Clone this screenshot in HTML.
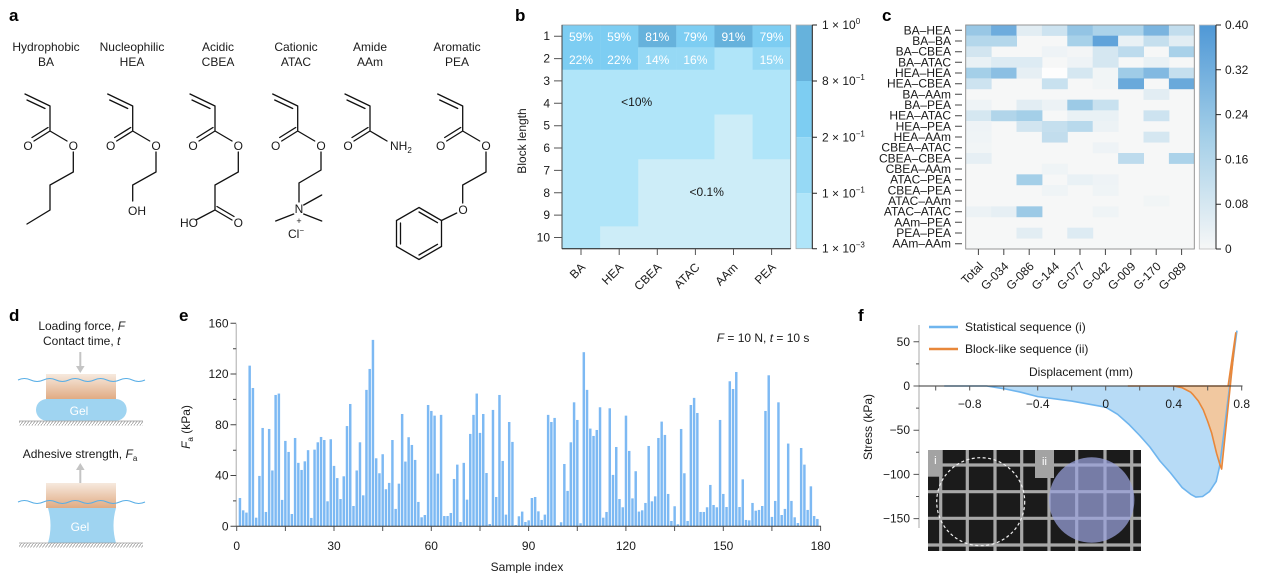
<!DOCTYPE html>
<html><head><meta charset="utf-8"><style>
html,body{margin:0;padding:0;background:#fff;}
svg{display:block;font-family:"Liberation Sans",Arial,sans-serif;}
text{font-size:12px;fill:#1a1a1a;}
.pl{font-size:17px;font-weight:bold;fill:#000;}
.w{fill:#fff;}
</style></head><body>
<svg width="1270" height="573" viewBox="0 0 1270 573" xmlns="http://www.w3.org/2000/svg">
<defs>
<linearGradient id="peach" x1="0" y1="0" x2="0" y2="1"><stop offset="0" stop-color="#f6e9de"/><stop offset="1" stop-color="#e1ab83"/></linearGradient>
<linearGradient id="cbc" x1="0" y1="0" x2="0" y2="1"><stop offset="0" stop-color="#4f98d6"/><stop offset="0.5" stop-color="#a4cfe8"/><stop offset="1" stop-color="#f6f7f7"/></linearGradient>
<pattern id="hatch" width="3" height="4" patternUnits="userSpaceOnUse"><path d="M-0.5 4.5 L3.5 -0.5" stroke="#9a9a9a" stroke-width="0.8"/></pattern>
</defs>
<rect width="1270" height="573" fill="#fff"/>

<!-- ============ Panel a ============ -->
<text class="pl" x="9" y="21">a</text>
<g text-anchor="middle">
<text x="46" y="51">Hydrophobic</text><text x="46" y="66">BA</text>
<text x="132" y="51">Nucleophilic</text><text x="132" y="66">HEA</text>
<text x="218" y="51">Acidic</text><text x="218" y="66">CBEA</text>
<text x="296" y="51">Cationic</text><text x="296" y="66">ATAC</text>
<text x="370" y="51">Amide</text><text x="370" y="66">AAm</text>
<text x="457" y="51">Aromatic</text><text x="457" y="66">PEA</text>
</g>
<g stroke="#111" stroke-width="1.3" fill="none" stroke-linecap="round">
<!-- BA -->
<path d="M25 94 L50 106 M27 100 L45 108.5 M50 106 L50 131 M50 131 L67 141 M50 131 L34 141 M48 127.5 L32 137.5 M73.3 152 L73.3 172 L50 185 L50 210 L27 224"/>
<!-- HEA -->
<path transform="translate(82.7 0)" d="M25 94 L50 106 M27 100 L45 108.5 M50 106 L50 131 M50 131 L67 141 M50 131 L34 141 M48 127.5 L32 137.5 M73.3 152 L73.3 172 L50 185 L50 201"/>
<!-- CBEA -->
<path transform="translate(165 0)" d="M25 94 L50 106 M27 100 L45 108.5 M50 106 L50 131 M50 131 L67 141 M50 131 L34 141 M48 127.5 L32 137.5 M73.3 152 L73.3 172 L50 185 L50 210 L31 220 M50 210 L67 220 M52 206.5 L69 216.5"/>
<!-- ATAC -->
<path transform="translate(247.7 0)" d="M25 94 L50 106 M27 100 L45 108.5 M50 106 L50 131 M50 131 L67 141 M50 131 L34 141 M48 127.5 L32 137.5 M73.3 152 L73.3 170 L51.3 183 L51.3 202 M56 205 L74 195 M46 214 L28 221 M56 214 L74 221"/>
<!-- AAm -->
<path transform="translate(320 0)" d="M25 94 L50 106 M27 100 L45 108.5 M50 106 L50 131 M50 131 L67 141 M50 131 L34 141 M48 127.5 L32 137.5"/>
<!-- PEA -->
<path transform="translate(412.7 0)" d="M25 94 L50 106 M27 100 L45 108.5 M50 106 L50 131 M50 131 L67 141 M50 131 L34 141 M48 127.5 L32 137.5 M73.3 152 L73.3 172 L50 185 L50 203 M44 213 L28.8 220.5"/>
<path d="M419 207.5 L441.5 220.5 L441.5 246.5 L419 259.5 L396.5 246.5 L396.5 220.5 Z M400.5 223 L400.5 244 M419 212 L437.5 222.7 M437.5 244.3 L419 255"/>
</g>
<g text-anchor="middle">
<text x="28" y="150">O</text><text x="73.3" y="150">O</text>
<text x="110.7" y="150">O</text><text x="156" y="150">O</text><text x="137" y="215">OH</text>
<text x="193" y="150">O</text><text x="238.3" y="150">O</text><text x="189" y="227">HO</text><text x="238.3" y="227">O</text>
<text x="275.7" y="150">O</text><text x="321" y="150">O</text><text x="299" y="213">N</text><text x="299" y="224" style="font-size:9px">+</text><text x="296" y="238">Cl<tspan style="font-size:8px" dy="-5">−</tspan></text>
<text x="348" y="150">O</text>
<text x="440.7" y="150">O</text><text x="486" y="150">O</text><text x="463" y="214">O</text>
</g>
<text x="390" y="150">NH<tspan style="font-size:8px" dy="3">2</tspan></text>

<!-- ============ Panel b ============ -->
<text class="pl" x="515" y="21">b</text>
<g transform="translate(562 25) scale(38.12 22.37)">
<rect x="0" y="0" width="6" height="10" fill="#b0e5f9"/>
<path d="M4 4 L5 4 L5 6 L6 6 L6 10 L1 10 L1 9 L2 9 L2 6 L4 6 Z" fill="#cdedf8"/>
<rect x="0" y="0" width="1" height="2" fill="#7dcdf2"/>
<rect x="1" y="0" width="1" height="2" fill="#7dcdf2"/>
<rect x="2" y="0" width="1" height="1" fill="#66b2dc"/>
<rect x="3" y="0" width="1" height="1" fill="#7dcdf2"/>
<rect x="4" y="0" width="1" height="1" fill="#66b2dc"/>
<rect x="5" y="0" width="1" height="1" fill="#7dcdf2"/>
<rect x="2" y="1" width="1" height="1" fill="#96d9f5"/>
<rect x="3" y="1" width="1" height="1" fill="#96d9f5"/>
<rect x="5" y="1" width="1" height="1" fill="#96d9f5"/>
</g>
<rect x="562" y="25" width="228.7" height="223.7" fill="none" stroke="#999" stroke-width="0.8"/>
<line x1="562" y1="248.7" x2="790.7" y2="248.7" stroke="#222" stroke-width="1"/>
<line x1="562" y1="25" x2="562" y2="248.7" stroke="#444" stroke-width="1"/>
<g class="w" text-anchor="middle">
<text class="w" x="581" y="41">59%</text><text class="w" x="619.2" y="41">59%</text><text class="w" x="657.3" y="41">81%</text><text class="w" x="695.4" y="41">79%</text><text class="w" x="733.5" y="41">91%</text><text class="w" x="771.6" y="41">79%</text>
<text class="w" x="581" y="64">22%</text><text class="w" x="619.2" y="64">22%</text><text class="w" x="657.3" y="64">14%</text><text class="w" x="695.4" y="64">16%</text><text class="w" x="771.6" y="64">15%</text>
</g>
<text x="636.7" y="106" text-anchor="middle">&lt;10%</text>
<text x="706.7" y="196" text-anchor="middle">&lt;0.1%</text>
<g stroke="#555" stroke-width="1">
<path d="M554 36.2 H562 M554 58.6 H562 M554 80.9 H562 M554 103.3 H562 M554 125.7 H562 M554 148 H562 M554 170.4 H562 M554 192.8 H562 M554 215.1 H562 M554 237.5 H562"/>
<path d="M581 249 V255 M619.2 249 V255 M657.3 249 V255 M695.4 249 V255 M733.5 249 V255 M771.6 249 V255"/>
</g>
<g text-anchor="end">
<text x="550" y="40">1</text><text x="550" y="62.6">2</text><text x="550" y="85">3</text><text x="550" y="107.3">4</text><text x="550" y="129.7">5</text><text x="550" y="152">6</text><text x="550" y="174.4">7</text><text x="550" y="196.8">8</text><text x="550" y="219.1">9</text><text x="550" y="241.5">10</text>
</g>
<text transform="translate(526 141) rotate(-90)" text-anchor="middle">Block length</text>
<g text-anchor="end">
<text transform="translate(586 268) rotate(-45)">BA</text>
<text transform="translate(624.2 268) rotate(-45)">HEA</text>
<text transform="translate(662.3 268) rotate(-45)">CBEA</text>
<text transform="translate(700.4 268) rotate(-45)">ATAC</text>
<text transform="translate(738.5 268) rotate(-45)">AAm</text>
<text transform="translate(776.6 268) rotate(-45)">PEA</text>
</g>
<!-- colorbar b -->
<rect x="796" y="25" width="16.3" height="56" fill="#66b2dc"/>
<rect x="796" y="81" width="16.3" height="56.3" fill="#7dcdf2"/>
<rect x="796" y="137.3" width="16.3" height="56" fill="#96d9f5"/>
<rect x="796" y="193.3" width="16.3" height="55.4" fill="#b0e5f9"/>
<rect x="796" y="25" width="16.3" height="223.7" fill="none" stroke="#aaa" stroke-width="0.8"/>
<g stroke="#222" stroke-width="1"><path d="M812.3 25 V248.7 M812.3 25 H817 M812.3 81 H817 M812.3 137.3 H817 M812.3 193.3 H817 M812.3 248.7 H817"/></g>
<text x="822" y="29">1 × 10<tspan style="font-size:8px" dy="-5">0</tspan></text>
<text x="822" y="85">8 × 10<tspan style="font-size:8px" dy="-5">−1</tspan></text>
<text x="822" y="141.3">2 × 10<tspan style="font-size:8px" dy="-5">−1</tspan></text>
<text x="822" y="197.3">1 × 10<tspan style="font-size:8px" dy="-5">−1</tspan></text>
<text x="822" y="252.7">1 × 10<tspan style="font-size:8px" dy="-5">−3</tspan></text>

<!-- ============ Panel c ============ -->
<text class="pl" x="882" y="21">c</text>
<rect x="965.7" y="25" width="228.6" height="224" fill="#f6f7f7"/>
<g transform="translate(965.7 25) scale(25.4 10.667)">
<rect x="0" y="0" width="1.02" height="1.02" fill="#98c7e5"/><rect x="1" y="0" width="1.02" height="1.02" fill="#6eacdd"/><rect x="2" y="0" width="1.02" height="1.02" fill="#e2edf3"/><rect x="3" y="0" width="1.02" height="1.02" fill="#cde3f0"/><rect x="4" y="0" width="1.02" height="1.02" fill="#93c4e4"/><rect x="5" y="0" width="1.02" height="1.02" fill="#acd3ea"/><rect x="6" y="0" width="1.02" height="1.02" fill="#acd3ea"/><rect x="7" y="0" width="1.02" height="1.02" fill="#7ab4df"/><rect x="8" y="0" width="1" height="1.02" fill="#c2dded"/>
<rect x="0" y="1" width="1.02" height="1.02" fill="#b4d7eb"/><rect x="1" y="1" width="1.02" height="1.02" fill="#b4d7eb"/><rect x="4" y="1" width="1.02" height="1.02" fill="#a7d1e9"/><rect x="5" y="1" width="1.02" height="1.02" fill="#60a3da"/><rect x="6" y="1" width="1.02" height="1.02" fill="#e9f1f5"/><rect x="7" y="1" width="1.02" height="1.02" fill="#c5dfee"/><rect x="8" y="1" width="1" height="1.02" fill="#e2edf3"/>
<rect x="0" y="2" width="1.02" height="1.02" fill="#d2e5f0"/><rect x="3" y="2" width="1.02" height="1.02" fill="#eef3f6"/><rect x="4" y="2" width="1.02" height="1.02" fill="#f3f5f6"/><rect x="5" y="2" width="1.02" height="1.02" fill="#d5e7f1"/><rect x="6" y="2" width="1.02" height="1.02" fill="#bddbed"/><rect x="8" y="2" width="1" height="1.02" fill="#a9d1e9"/>
<rect x="0" y="3" width="1.02" height="1.02" fill="#e9f1f5"/><rect x="1" y="3" width="1.02" height="1.02" fill="#ddebf3"/><rect x="2" y="3" width="1.02" height="1.02" fill="#ddebf3"/><rect x="4" y="3" width="1.02" height="1.02" fill="#eef3f6"/><rect x="5" y="3" width="1.02" height="1.02" fill="#d5e7f1"/><rect x="7" y="3" width="1.02" height="1.02" fill="#e9f1f5"/>
<rect x="0" y="4" width="1.02" height="1.02" fill="#a4cfe8"/><rect x="1" y="4" width="1.02" height="1.02" fill="#8bbfe3"/><rect x="2" y="4" width="1.02" height="1.02" fill="#e6eff4"/><rect x="3" y="4" width="1.02" height="1.02" fill="#fdfdfd"/><rect x="4" y="4" width="1.02" height="1.02" fill="#d5e7f1"/><rect x="5" y="4" width="1.02" height="1.02" fill="#f1f5f6"/><rect x="6" y="4" width="1.02" height="1.02" fill="#9fcce7"/><rect x="7" y="4" width="1.02" height="1.02" fill="#82b9e1"/><rect x="8" y="4" width="1" height="1.02" fill="#c5dfee"/>
<rect x="0" y="5" width="1.02" height="1.02" fill="#cde3f0"/><rect x="3" y="5" width="1.02" height="1.02" fill="#c8e1ef"/><rect x="5" y="5" width="1.02" height="1.02" fill="#f1f5f6"/><rect x="6" y="5" width="1.02" height="1.02" fill="#69a9db"/><rect x="8" y="5" width="1" height="1.02" fill="#69a9db"/>
<rect x="7" y="6" width="1.02" height="1.02" fill="#e2edf3"/>
<rect x="0" y="7" width="1.02" height="1.02" fill="#eef3f6"/><rect x="2" y="7" width="1.02" height="1.02" fill="#e2edf3"/><rect x="3" y="7" width="1.02" height="1.02" fill="#ecf2f5"/><rect x="4" y="7" width="1.02" height="1.02" fill="#9ccae6"/><rect x="5" y="7" width="1.02" height="1.02" fill="#c8e1ef"/>
<rect x="0" y="8" width="1.02" height="1.02" fill="#d5e7f1"/><rect x="1" y="8" width="1.02" height="1.02" fill="#b1d5ea"/><rect x="2" y="8" width="1.02" height="1.02" fill="#a4cfe8"/><rect x="4" y="8" width="1.02" height="1.02" fill="#e9f1f5"/><rect x="5" y="8" width="1.02" height="1.02" fill="#e9f1f5"/><rect x="7" y="8" width="1.02" height="1.02" fill="#cde3f0"/>
<rect x="0" y="9" width="1.02" height="1.02" fill="#eef3f6"/><rect x="2" y="9" width="1.02" height="1.02" fill="#d2e5f0"/><rect x="3" y="9" width="1.02" height="1.02" fill="#c5dfee"/><rect x="4" y="9" width="1.02" height="1.02" fill="#b8d9ec"/><rect x="5" y="9" width="1.02" height="1.02" fill="#ecf2f5"/>
<rect x="0" y="10" width="1.02" height="1.02" fill="#eff4f6"/><rect x="3" y="10" width="1.02" height="1.02" fill="#c2dded"/><rect x="7" y="10" width="1.02" height="1.02" fill="#d5e7f1"/>
<rect x="0" y="11" width="1.02" height="1.02" fill="#f1f5f6"/><rect x="5" y="11" width="1.02" height="1.02" fill="#eef3f6"/>
<rect x="0" y="12" width="1.02" height="1.02" fill="#e6eff4"/><rect x="6" y="12" width="1.02" height="1.02" fill="#bddbed"/><rect x="8" y="12" width="1" height="1.02" fill="#acd3ea"/>
<rect x="3" y="13" width="1.02" height="1.02" fill="#eff4f6"/>
<rect x="2" y="14" width="1.02" height="1.02" fill="#a4cfe8"/><rect x="4" y="14" width="1.02" height="1.02" fill="#e9f1f5"/><rect x="5" y="14" width="1.02" height="1.02" fill="#eef3f6"/>
<rect x="3" y="15" width="1.02" height="1.02" fill="#eff4f6"/><rect x="5" y="15" width="1.02" height="1.02" fill="#eff4f6"/>
<rect x="7" y="16" width="1.02" height="1.02" fill="#f1f5f6"/>
<rect x="0" y="17" width="1.02" height="1.02" fill="#ecf2f5"/><rect x="1" y="17" width="1.02" height="1.02" fill="#e6eff4"/><rect x="2" y="17" width="1.02" height="1.02" fill="#9ccae6"/><rect x="5" y="17" width="1.02" height="1.02" fill="#eff4f6"/>
<rect x="2" y="19" width="1.02" height="1.02" fill="#e2edf3"/><rect x="4" y="19" width="1.02" height="1.02" fill="#ddebf3"/>
</g>
<rect x="965.7" y="25" width="228.6" height="224" fill="none" stroke="#8a8a8a" stroke-width="0.9"/>
<g stroke="#444" stroke-width="1">
<path d="M955 30.3 H962 M955 41 H962 M955 51.7 H962 M955 62.3 H962 M955 73 H962 M955 83.7 H962 M955 94.3 H962 M955 105 H962 M955 115.7 H962 M955 126.3 H962 M955 137 H962 M955 147.7 H962 M955 158.3 H962 M955 169 H962 M955 179.7 H962 M955 190.3 H962 M955 201 H962 M955 211.7 H962 M955 222.3 H962 M955 233 H962 M955 243.7 H962"/>
<path d="M978.4 249 V255 M1003.8 249 V255 M1029.2 249 V255 M1054.6 249 V255 M1080 249 V255 M1105.4 249 V255 M1130.8 249 V255 M1156.2 249 V255 M1181.6 249 V255"/>
</g>
<g text-anchor="end" style="font-size:11.5px">
<text x="951" y="34.3">BA–HEA</text>
<text x="951" y="45">BA–BA</text>
<text x="951" y="55.7">BA–CBEA</text>
<text x="951" y="66.3">BA–ATAC</text>
<text x="951" y="77">HEA–HEA</text>
<text x="951" y="87.7">HEA–CBEA</text>
<text x="951" y="98.3">BA–AAm</text>
<text x="951" y="109">BA–PEA</text>
<text x="951" y="119.7">HEA–ATAC</text>
<text x="951" y="130.3">HEA–PEA</text>
<text x="951" y="141">HEA–AAm</text>
<text x="951" y="151.7">CBEA–ATAC</text>
<text x="951" y="162.3">CBEA–CBEA</text>
<text x="951" y="173">CBEA–AAm</text>
<text x="951" y="183.7">ATAC–PEA</text>
<text x="951" y="194.3">CBEA–PEA</text>
<text x="951" y="205">ATAC–AAm</text>
<text x="951" y="215.7">ATAC–ATAC</text>
<text x="951" y="226.3">AAm–PEA</text>
<text x="951" y="237">PEA–PEA</text>
<text x="951" y="247.7">AAm–AAm</text>
</g>
<g text-anchor="end">
<text transform="translate(984 267) rotate(-45)">Total</text>
<text transform="translate(1009.3 267) rotate(-45)">G-034</text>
<text transform="translate(1034.7 267) rotate(-45)">G-086</text>
<text transform="translate(1060.1 267) rotate(-45)">G-144</text>
<text transform="translate(1085.5 267) rotate(-45)">G-077</text>
<text transform="translate(1110.9 267) rotate(-45)">G-042</text>
<text transform="translate(1136.3 267) rotate(-45)">G-009</text>
<text transform="translate(1161.7 267) rotate(-45)">G-170</text>
<text transform="translate(1187.1 267) rotate(-45)">G-089</text>
</g>
<rect x="1199.3" y="25" width="16.7" height="224" fill="url(#cbc)" stroke="#bbb" stroke-width="0.8"/>
<g stroke="#222" stroke-width="1"><path d="M1216 25 V249 M1216 25 H1221 M1216 69.8 H1221 M1216 114.6 H1221 M1216 159.4 H1221 M1216 204.2 H1221 M1216 249 H1221"/></g>
<text x="1225" y="29">0.40</text>
<text x="1225" y="73.8">0.32</text>
<text x="1225" y="118.6">0.24</text>
<text x="1225" y="163.4">0.16</text>
<text x="1225" y="208.2">0.08</text>
<text x="1225" y="253">0</text>

<!-- ============ Panel d ============ -->
<text class="pl" x="9" y="321">d</text>
<text x="81.7" y="330" text-anchor="middle">Loading force, <tspan font-style="italic">F</tspan></text>
<text x="81.7" y="345" text-anchor="middle">Contact time, <tspan font-style="italic">t</tspan></text>
<line x1="80.3" y1="352" x2="80.3" y2="367" stroke="#c4c4c4" stroke-width="2"/>
<polygon points="76,366 84.6,366 80.3,373" fill="#c4c4c4"/>
<rect x="46" y="374" width="70" height="25" fill="url(#peach)"/>
<rect x="36" y="399" width="90.7" height="21.7" rx="10.8" fill="#9fd4f1"/>
<text x="79" y="415" text-anchor="middle" class="w">Gel</text>
<path d="M18 380 q6.35 -3 12.7 0 t12.7 0 t12.7 0 t12.7 0 t12.7 0 t12.7 0 t12.7 0 t12.7 0 t12.7 0 t12.7 0" fill="none" stroke="#58aee6" stroke-width="1"/>
<rect x="19" y="421" width="124" height="4.5" fill="url(#hatch)"/>
<line x1="19" y1="421" x2="143" y2="421" stroke="#9a9a9a" stroke-width="0.8"/>

<text x="80" y="458" text-anchor="middle">Adhesive strength, <tspan font-style="italic">F</tspan><tspan style="font-size:8px" dy="3">a</tspan></text>
<line x1="80.3" y1="484" x2="80.3" y2="469" stroke="#c4c4c4" stroke-width="2"/>
<polygon points="76,470 84.6,470 80.3,463" fill="#c4c4c4"/>
<rect x="46" y="483" width="70" height="25" fill="url(#peach)"/>
<path d="M48 508 L116 508 Q111 525.5 116 543 L48 543 Q53 525.5 48 508 Z" fill="#9fd4f1"/>
<text x="80" y="531" text-anchor="middle" class="w">Gel</text>
<path d="M18 502 q6.35 -3 12.7 0 t12.7 0 t12.7 0 t12.7 0 t12.7 0 t12.7 0 t12.7 0 t12.7 0 t12.7 0 t12.7 0" fill="none" stroke="#58aee6" stroke-width="1"/>
<rect x="19" y="543" width="124" height="4.5" fill="url(#hatch)"/>
<line x1="19" y1="543" x2="143" y2="543" stroke="#9a9a9a" stroke-width="0.8"/>

<!-- ============ Panel e ============ -->
<text class="pl" x="179" y="321">e</text>
<line x1="236.2" y1="324" x2="236.2" y2="526.3" stroke="#aaa" stroke-width="1"/>
<g stroke="#444" stroke-width="1">
<path d="M230.5 526.3 H236.2 M230.5 475.5 H236.2 M230.5 424.8 H236.2 M230.5 374 H236.2 M230.5 323.3 H236.2"/>
<path d="M233 500.9 H236.2 M233 450.2 H236.2 M233 399.4 H236.2 M233 348.7 H236.2"/>
</g>
<g text-anchor="end">
<text x="228.5" y="530.3">0</text><text x="228.5" y="479.5">40</text><text x="228.5" y="428.8">80</text><text x="228.5" y="378">120</text><text x="228.5" y="327.3">160</text>
</g>
<text transform="translate(190 427) rotate(-90)" text-anchor="middle"><tspan font-style="italic">F</tspan><tspan style="font-size:8px" dy="3">a</tspan><tspan dy="-3"> (kPa)</tspan></text>
<g transform="translate(236.7 526.3) scale(3.244 -1.269)" fill="#7db9f3">
<rect x="0.62" width="0.76" height="22.3"/><rect x="1.62" width="0.76" height="12.6"/><rect x="2.62" width="0.76" height="10.8"/><rect x="3.62" width="0.76" height="126.6"/><rect x="4.62" width="0.76" height="109"/><rect x="5.62" width="0.76" height="6.8"/><rect x="6.62" width="0.76" height="39.7"/><rect x="7.62" width="0.76" height="77.5"/><rect x="8.62" width="0.76" height="11.3"/><rect x="9.62" width="0.76" height="76.7"/>
<rect x="10.62" width="0.76" height="44"/><rect x="11.62" width="0.76" height="103.5"/><rect x="12.62" width="0.76" height="104.6"/><rect x="13.62" width="0.76" height="20.8"/><rect x="14.62" width="0.76" height="67.3"/><rect x="15.62" width="0.76" height="58.6"/><rect x="16.62" width="0.76" height="9.7"/><rect x="17.62" width="0.76" height="69.6"/><rect x="18.62" width="0.76" height="50"/><rect x="19.62" width="0.76" height="44.4"/>
<rect x="20.62" width="0.76" height="51.2"/><rect x="21.62" width="0.76" height="60"/><rect x="22.62" width="0.76" height="6.6"/><rect x="23.62" width="0.76" height="60.4"/><rect x="24.62" width="0.76" height="66.2"/><rect x="25.62" width="0.76" height="70.4"/><rect x="26.62" width="0.76" height="68"/><rect x="27.62" width="0.76" height="19.7"/><rect x="28.62" width="0.76" height="68.6"/><rect x="29.62" width="0.76" height="47.6"/>
<rect x="30.62" width="0.76" height="38"/><rect x="31.62" width="0.76" height="21.5"/><rect x="32.62" width="0.76" height="39.4"/><rect x="33.62" width="0.76" height="79"/><rect x="34.62" width="0.76" height="96.4"/><rect x="35.62" width="0.76" height="16"/><rect x="36.62" width="0.76" height="44"/><rect x="37.62" width="0.76" height="66.2"/><rect x="38.62" width="0.76" height="24.4"/><rect x="39.62" width="0.76" height="107.5"/>
<rect x="40.62" width="0.76" height="124"/><rect x="41.62" width="0.76" height="146.9"/><rect x="42.62" width="0.76" height="53.6"/><rect x="43.62" width="0.76" height="41.8"/><rect x="44.62" width="0.76" height="56.8"/><rect x="45.62" width="0.76" height="29.2"/><rect x="46.62" width="0.76" height="34.2"/><rect x="47.62" width="0.76" height="68"/><rect x="48.62" width="0.76" height="13.7"/><rect x="49.62" width="0.76" height="33.6"/>
<rect x="50.62" width="0.76" height="88.5"/><rect x="51.62" width="0.76" height="51"/><rect x="52.62" width="0.76" height="70.2"/><rect x="53.62" width="0.76" height="64.1"/><rect x="54.62" width="0.76" height="52.3"/><rect x="55.62" width="0.76" height="19.2"/><rect x="56.62" width="0.76" height="7.1"/><rect x="57.62" width="0.76" height="8.9"/><rect x="58.62" width="0.76" height="95.6"/><rect x="59.62" width="0.76" height="90.9"/>
<rect x="60.62" width="0.76" height="87.2"/><rect x="61.62" width="0.76" height="41.5"/><rect x="62.62" width="0.76" height="87.8"/><rect x="63.62" width="0.76" height="8.1"/><rect x="64.62" width="0.76" height="8.1"/><rect x="65.62" width="0.76" height="10.5"/><rect x="66.62" width="0.76" height="37.3"/><rect x="67.62" width="0.76" height="48.6"/><rect x="68.62" width="0.76" height="3.4"/><rect x="69.62" width="0.76" height="50"/>
<rect x="70.62" width="0.76" height="21"/><rect x="71.62" width="0.76" height="72.8"/><rect x="72.62" width="0.76" height="87.8"/><rect x="73.62" width="0.76" height="104.6"/><rect x="74.62" width="0.76" height="73.6"/><rect x="75.62" width="0.76" height="88.5"/><rect x="76.62" width="0.76" height="42"/><rect x="77.62" width="0.76" height="1.8"/><rect x="78.62" width="0.76" height="91.7"/><rect x="79.62" width="0.76" height="23.1"/>
<rect x="80.62" width="0.76" height="103.5"/><rect x="81.62" width="0.76" height="51.5"/><rect x="82.62" width="0.76" height="9.2"/><rect x="83.62" width="0.76" height="82.2"/><rect x="84.62" width="0.76" height="66.5"/><rect x="85.62" width="0.76" height="1"/><rect x="86.62" width="0.76" height="7.9"/><rect x="87.62" width="0.76" height="11.6"/><rect x="88.62" width="0.76" height="3.4"/><rect x="89.62" width="0.76" height="4.7"/>
<rect x="90.62" width="0.76" height="22.3"/><rect x="91.62" width="0.76" height="23.1"/><rect x="92.62" width="0.76" height="11.8"/><rect x="93.62" width="0.76" height="5"/><rect x="94.62" width="0.76" height="9.2"/><rect x="95.62" width="0.76" height="87.8"/><rect x="96.62" width="0.76" height="82.2"/><rect x="97.62" width="0.76" height="85.4"/><rect x="98.62" width="0.76" height="0.8"/><rect x="99.62" width="0.76" height="3.2"/>
<rect x="100.62" width="0.76" height="49.1"/><rect x="101.62" width="0.76" height="27.9"/><rect x="102.62" width="0.76" height="66.2"/><rect x="103.62" width="0.76" height="97.7"/><rect x="104.62" width="0.76" height="83.8"/><rect x="105.62" width="0.76" height="2.4"/><rect x="106.62" width="0.76" height="137.2"/><rect x="107.62" width="0.76" height="107.5"/><rect x="108.62" width="0.76" height="77"/><rect x="109.62" width="0.76" height="71.2"/>
<rect x="110.62" width="0.76" height="75.9"/><rect x="111.62" width="0.76" height="93.8"/><rect x="112.62" width="0.76" height="6.8"/><rect x="113.62" width="0.76" height="11.3"/><rect x="114.62" width="0.76" height="93"/><rect x="115.62" width="0.76" height="40.5"/><rect x="116.62" width="0.76" height="62.5"/><rect x="117.62" width="0.76" height="21.5"/><rect x="118.62" width="0.76" height="15"/><rect x="119.62" width="0.76" height="87.2"/>
<rect x="120.62" width="0.76" height="59.4"/><rect x="121.62" width="0.76" height="22"/><rect x="122.62" width="0.76" height="43.4"/><rect x="123.62" width="0.76" height="11.6"/><rect x="124.62" width="0.76" height="12.6"/><rect x="125.62" width="0.76" height="18.4"/><rect x="126.62" width="0.76" height="63.3"/><rect x="127.62" width="0.76" height="19.7"/><rect x="128.62" width="0.76" height="23.6"/><rect x="129.62" width="0.76" height="69.6"/>
<rect x="130.62" width="0.76" height="82.5"/><rect x="131.62" width="0.76" height="72"/><rect x="132.62" width="0.76" height="25.5"/><rect x="133.62" width="0.76" height="4.2"/><rect x="134.62" width="0.76" height="15.8"/><rect x="135.62" width="0.76" height="1.6"/><rect x="136.62" width="0.76" height="76.7"/><rect x="137.62" width="0.76" height="41.8"/><rect x="138.62" width="0.76" height="4.2"/><rect x="139.62" width="0.76" height="95.6"/>
<rect x="140.62" width="0.76" height="101.2"/><rect x="141.62" width="0.76" height="89.3"/><rect x="142.62" width="0.76" height="11.3"/><rect x="143.62" width="0.76" height="11.3"/><rect x="144.62" width="0.76" height="15"/><rect x="145.62" width="0.76" height="32.6"/><rect x="146.62" width="0.76" height="16.8"/><rect x="147.62" width="0.76" height="15"/><rect x="148.62" width="0.76" height="83.8"/><rect x="149.62" width="0.76" height="25.5"/>
<rect x="150.62" width="0.76" height="15.2"/><rect x="151.62" width="0.76" height="114.3"/><rect x="152.62" width="0.76" height="108.2"/><rect x="153.62" width="0.76" height="121.6"/><rect x="154.62" width="0.76" height="15.2"/><rect x="155.62" width="0.76" height="37"/><rect x="156.62" width="0.76" height="5"/><rect x="157.62" width="0.76" height="4.7"/><rect x="158.62" width="0.76" height="18.4"/><rect x="159.62" width="0.76" height="12.3"/>
<rect x="160.62" width="0.76" height="12.9"/><rect x="161.62" width="0.76" height="16"/><rect x="162.62" width="0.76" height="90.9"/><rect x="163.62" width="0.76" height="119"/><rect x="164.62" width="0.76" height="7.4"/><rect x="165.62" width="0.76" height="20"/><rect x="166.62" width="0.76" height="97.7"/><rect x="167.62" width="0.76" height="8.9"/><rect x="168.62" width="0.76" height="13.7"/><rect x="169.62" width="0.76" height="65.2"/>
<rect x="170.62" width="0.76" height="20"/><rect x="171.62" width="0.76" height="7.1"/><rect x="172.62" width="0.76" height="2.6"/><rect x="173.62" width="0.76" height="61.7"/><rect x="174.62" width="0.76" height="48.6"/><rect x="175.62" width="0.76" height="12.9"/><rect x="176.62" width="0.76" height="31.5"/><rect x="177.62" width="0.76" height="8.1"/><rect x="178.62" width="0.76" height="5.8"/>
</g>
<line x1="236.2" y1="526.3" x2="821" y2="526.3" stroke="#333" stroke-width="1"/>
<g stroke="#555" stroke-width="1">
<path d="M236.7 526.3 V531 M285.4 526.3 V531 M334 526.3 V531 M382.7 526.3 V531 M431.3 526.3 V531 M480 526.3 V531 M528.6 526.3 V531 M577.3 526.3 V531 M625.9 526.3 V531 M674.6 526.3 V531 M723.3 526.3 V531 M771.9 526.3 V531 M820.6 526.3 V531"/>
</g>
<g text-anchor="middle">
<text x="236.7" y="550">0</text><text x="334" y="550">30</text><text x="431.3" y="550">60</text><text x="528.6" y="550">90</text><text x="625.9" y="550">120</text><text x="723.3" y="550">150</text><text x="820.6" y="550">180</text>
</g>
<text x="527" y="571" text-anchor="middle">Sample index</text>
<text x="716.7" y="342"><tspan font-style="italic">F</tspan> = 10 N, <tspan font-style="italic">t</tspan> = 10 s</text>

<!-- ============ Panel f ============ -->
<text class="pl" x="858" y="321">f</text>
<g transform="translate(1105.7 386) scale(170 -0.884)">
<path d="M-0.95 0 L-0.7 0 L-0.6 -3 L-0.5 -7 L-0.4 -12 L-0.2 -17 L0 -24 L0.07 -32 L0.14 -44 L0.2 -56 L0.26 -69 L0.32 -85 L0.38 -98 L0.45 -115 L0.5 -122.5 L0.53 -125.6 L0.57 -125 L0.61 -119.5 L0.65 -108 L0.67 -91 L0.69 -61 L0.729 0 Z" fill="#b7dbf6"/>
<path d="M0.4 0 L0.45 -2 L0.5 -7 L0.515 -10 L0.545 -17 L0.574 -27 L0.6 -40 L0.623 -53 L0.652 -76 L0.672 -89 L0.682 -94 L0.735 0 Z" fill="#f1c8a0"/>
<path d="M-0.95 0 L-0.7 0 L-0.6 -3 L-0.5 -7 L-0.4 -12 L-0.2 -17 L0 -24 L0.07 -32 L0.14 -44 L0.2 -56 L0.26 -69 L0.32 -85 L0.38 -98 L0.45 -115 L0.5 -122.5 L0.53 -125.6 L0.57 -125 L0.61 -119.5 L0.65 -108 L0.67 -91 L0.69 -61 L0.729 0 L0.772 62.6" fill="none" stroke="#6fb5ee" stroke-width="1.6" stroke-linejoin="round" vector-effect="non-scaling-stroke"/>
<path d="M0.13 0 L0.72 0 L0.765 60 L0.682 -94 L0.672 -89 L0.652 -76 L0.623 -53 L0.6 -40 L0.574 -27 L0.545 -17 L0.515 -10 L0.5 -7 L0.45 -2 L0.4 0" fill="none" stroke="#e8873a" stroke-width="1.6" stroke-linejoin="round" vector-effect="non-scaling-stroke"/>
</g>
<line x1="919" y1="325" x2="919" y2="528" stroke="#aaa" stroke-width="1"/>
<g stroke="#555" stroke-width="1">
<path d="M913.5 341.8 H919 M913.5 386 H919 M913.5 430.2 H919 M913.5 474.4 H919 M913.5 518.6 H919"/>
<path d="M916 363.9 H919 M916 408.1 H919 M916 452.3 H919 M916 496.5 H919"/>
</g>
<line x1="919" y1="386" x2="1242.5" y2="386" stroke="#333" stroke-width="1"/>
<g stroke="#555" stroke-width="1">
<path d="M935.7 386 V390.5 M969.7 386 V390.5 M1003.7 386 V390.5 M1037.7 386 V390.5 M1071.7 386 V390.5 M1105.7 386 V390.5 M1139.7 386 V390.5 M1173.7 386 V390.5 M1207.7 386 V390.5 M1241.7 386 V390.5"/>
</g>
<g text-anchor="end">
<text x="910" y="346">50</text><text x="910" y="390">0</text><text x="910" y="434.2">−50</text><text x="910" y="478.4">−100</text><text x="910" y="522.6">−150</text>
</g>
<g text-anchor="middle">
<text x="969.7" y="408">−0.8</text><text x="1037.7" y="408">−0.4</text><text x="1105.7" y="408">0</text><text x="1173.7" y="408">0.4</text><text x="1241.7" y="408">0.8</text>
</g>
<text x="1081" y="376" text-anchor="middle">Displacement (mm)</text>
<text transform="translate(872 427) rotate(-90)" text-anchor="middle">Stress (kPa)</text>
<line x1="929" y1="327" x2="958" y2="327" stroke="#6fb5ee" stroke-width="2.5"/>
<text x="965" y="331">Statistical sequence (i)</text>
<line x1="929" y1="349" x2="958" y2="349" stroke="#e8873a" stroke-width="2.5"/>
<text x="965" y="353">Block-like sequence (ii)</text>
<!-- inset photo -->
<svg x="928" y="450" width="213" height="101" viewBox="0 0 213 101">
<rect width="213" height="101" fill="#1b1b1b"/>
<g stroke="#a8a8a8" stroke-width="3.2">
<path d="M12.7 0 V101 M39.3 0 V101 M67 0 V101 M93.7 0 V101 M121 0 V101 M148.7 0 V101 M177 0 V101 M203.7 0 V101"/>
<path d="M0 15 H213 M0 41.7 H213 M0 68.3 H213 M0 95 H213"/>
</g>
<circle cx="163.7" cy="50" r="42.7" fill="#9aa2dc" fill-opacity="0.72"/>
<circle cx="52.7" cy="51.7" r="44" fill="none" stroke="#f0f0f0" stroke-width="1.2" stroke-dasharray="3 2.5"/>
<rect x="0" y="0" width="14.7" height="26.7" fill="#a3a3a3"/>
<rect x="107" y="0" width="19" height="28" fill="#a3a3a3"/>
<text x="7.3" y="14" text-anchor="middle" class="w" style="font-size:11px">i</text>
<text x="116.5" y="15" text-anchor="middle" class="w" style="font-size:11px">ii</text>
</svg>
</svg>
</body></html>
